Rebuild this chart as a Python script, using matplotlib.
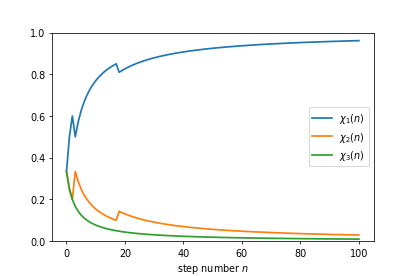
import numpy as np
import matplotlib.pyplot as plt

# colour added to the urn at each step n = 1..100 (1, 2 or 3), read from the jumps
draws = [1, 1, 2, 1, 1, 1, 1, 1, 1, 1, 1, 1, 1, 1, 1, 1, 1, 2, 1,
         1, 1, 1, 1, 1, 1, 1, 1, 1, 1, 1, 1, 1, 1, 1, 1, 1, 1, 1, 1, 1,
         1, 1, 1, 1, 1, 1, 1, 1, 1, 1, 1, 1, 1, 1, 1, 1, 1, 1, 1, 1,
         1, 1, 1, 1, 1, 1, 1, 1, 1, 1, 1, 1, 1, 1, 1, 1, 1, 1, 1, 1,
         1, 1, 1, 1, 1, 1, 1, 1, 1, 1, 1, 1, 1, 1, 1, 1, 1, 1, 1, 1]
start_counts = [1, 1, 1]
labels = [r'$\chi_1(n)$', r'$\chi_2(n)$', r'$\chi_3(n)$']

steps = np.arange(len(draws) + 1)
counts = np.zeros((len(steps), 3))
counts[0] = start_counts
for i, d in enumerate(draws):
    counts[i + 1] = counts[i]
    counts[i + 1, d - 1] += 1
chi = counts / counts.sum(axis=1, keepdims=True)

fig = plt.figure(figsize=(6, 4), dpi=415 / 6)
ax = fig.add_subplot(1, 1, 1)
fig.subplots_adjust(bottom=0.126)
for k in range(3):
    ax.plot(steps, chi[:, k], lw=1.8, label=labels[k])
ax.set_ylim(0, 1)
ax.set_xlabel('step number $n$')
ax.legend(loc='center right')
plt.savefig('out.png', dpi=415 / 6)
